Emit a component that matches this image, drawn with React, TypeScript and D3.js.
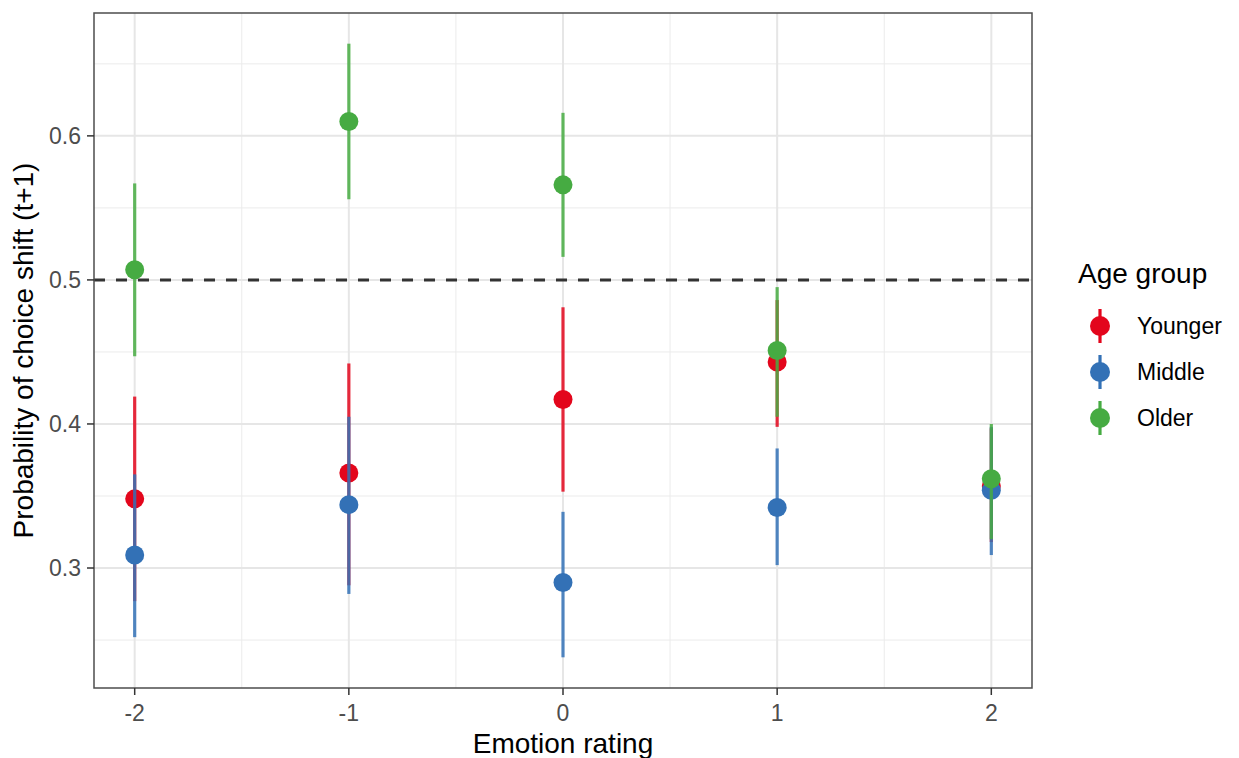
import * as d3 from "d3";

const ratings = [-2, -1, 0, 1, 2];
const groups = ["Younger", "Middle", "Older"];
const groupColors = ["#E3061C", "#3371B6", "#46AB42"];

const younger = [0.348, 0.366, 0.417, 0.443, 0.357];
const youngerLo = [0.277, 0.288, 0.353, 0.398, 0.318];
const youngerHi = [0.419, 0.442, 0.481, 0.486, 0.397];

const middle = [0.309, 0.344, 0.29, 0.342, 0.354];
const middleLo = [0.252, 0.282, 0.238, 0.302, 0.309];
const middleHi = [0.365, 0.405, 0.339, 0.383, 0.398];

const older = [0.507, 0.61, 0.566, 0.451, 0.362];
const olderLo = [0.447, 0.556, 0.516, 0.405, 0.32];
const olderHi = [0.567, 0.664, 0.616, 0.495, 0.4];

const yTicks = [0.3, 0.4, 0.5, 0.6];
const yMinor = [0.25, 0.35, 0.45, 0.55, 0.65];
const xMinor = [-1.5, -0.5, 0.5, 1.5];
const refLine = 0.5;

export default function App() {
  const width = 1239;
  const height = 758;
  const marginLeft = 94;
  const marginRight = 207;
  const marginTop = 13;
  const marginBottom = 70;
  const font = "'Liberation Sans', Arial, Helvetica, sans-serif";

  const series = [
    { est: younger, lo: youngerLo, hi: youngerHi },
    { est: middle, lo: middleLo, hi: middleHi },
    { est: older, lo: olderLo, hi: olderHi },
  ].map((s, i) => ({
    name: groups[i],
    color: groupColors[i],
    points: ratings.map((r, j) => ({ x: r, est: s.est[j], lo: s.lo[j], hi: s.hi[j] })),
  }));

  const allVals = series.flatMap((s) => s.points.flatMap((p) => [p.lo, p.hi]));
  const yMin = d3.min(allVals)!;
  const yMax = d3.max(allVals)!;
  const yPad = (yMax - yMin) * 0.05;
  const xPad = 0.19;

  const x = d3
    .scaleLinear()
    .domain([d3.min(ratings)! - xPad, d3.max(ratings)! + xPad])
    .range([marginLeft, width - marginRight]);

  const y = d3
    .scaleLinear()
    .domain([yMin - yPad, yMax + yPad])
    .range([height - marginBottom, marginTop]);

  const [x0, x1] = x.range();
  const [y0, y1] = y.range();

  return (
    <svg
      width={width}
      height={height}
      style={{ position: "absolute", left: 0, top: 0, background: "white" }}
      fontFamily={font}
    >
      <rect x={0} y={0} width={width} height={height} fill="white" />
      {/* grid */}
      <g>
        {yMinor.map((t) => (
          <line key={"ym" + t} x1={x0} x2={x1} y1={y(t)} y2={y(t)} stroke="#ebebeb" strokeWidth={1} />
        ))}
        {xMinor.map((t) => (
          <line key={"xm" + t} x1={x(t)} x2={x(t)} y1={y0} y2={y1} stroke="#ebebeb" strokeWidth={1} />
        ))}
        {yTicks.map((t) => (
          <line key={"y" + t} x1={x0} x2={x1} y1={y(t)} y2={y(t)} stroke="#e6e6e6" strokeWidth={2} />
        ))}
        {ratings.map((t) => (
          <line key={"x" + t} x1={x(t)} x2={x(t)} y1={y0} y2={y1} stroke="#e6e6e6" strokeWidth={2} />
        ))}
      </g>
      {/* reference line */}
      <line
        x1={x0}
        x2={x1}
        y1={y(refLine)}
        y2={y(refLine)}
        stroke="#333333"
        strokeWidth={3}
        strokeDasharray="11 11"
      />
      {/* point ranges */}
      {series.map((s) => (
        <g key={s.name}>
          {s.points.map((p) => (
            <g key={p.x}>
              <line
                x1={x(p.x)}
                x2={x(p.x)}
                y1={y(p.lo)}
                y2={y(p.hi)}
                stroke={s.color}
                strokeOpacity={0.85}
                strokeWidth={3.2}
              />
              <circle cx={x(p.x)} cy={y(p.est)} r={9.5} fill={s.color} />
            </g>
          ))}
        </g>
      ))}
      {/* panel border */}
      <rect x={x0} y={y1} width={x1 - x0} height={y0 - y1} fill="none" stroke="#4d4d4d" strokeWidth={1.5} />
      {/* y axis */}
      <g>
        {yTicks.map((t) => (
          <g key={t}>
            <line x1={x0 - 7} x2={x0} y1={y(t)} y2={y(t)} stroke="#333333" strokeWidth={1.5} />
            <text x={x0 - 13} y={y(t)} dy="0.35em" textAnchor="end" fontSize={23} fill="#4d4d4d">
              {d3.format(".1f")(t)}
            </text>
          </g>
        ))}
      </g>
      {/* x axis */}
      <g>
        {ratings.map((t) => (
          <g key={t}>
            <line x1={x(t)} x2={x(t)} y1={y0} y2={y0 + 7} stroke="#333333" strokeWidth={1.5} />
            <text x={x(t)} y={y0 + 33} textAnchor="middle" fontSize={23} fill="#4d4d4d">
              {t}
            </text>
          </g>
        ))}
      </g>
      <text x={(x0 + x1) / 2} y={753} textAnchor="middle" fontSize={28} fill="black">
        Emotion rating
      </text>
      <text
        transform={`translate(33,${(y0 + y1) / 2}) rotate(-90)`}
        textAnchor="middle"
        fontSize={28}
        fill="black"
      >
        Probability of choice shift (t+1)
      </text>
      {/* legend */}
      <g>
        <text x={1078} y={283} fontSize={28} fill="black">
          Age group
        </text>
        {series.map((s, i) => {
          const cy = 326 + i * 46;
          return (
            <g key={s.name}>
              <line x1={1100} x2={1100} y1={cy - 17} y2={cy + 17} stroke={s.color} strokeWidth={3.2} />
              <circle cx={1100} cy={cy} r={10} fill={s.color} />
              <text x={1137} y={cy} dy="0.35em" fontSize={23} fill="black">
                {s.name}
              </text>
            </g>
          );
        })}
      </g>
    </svg>
  );
}
